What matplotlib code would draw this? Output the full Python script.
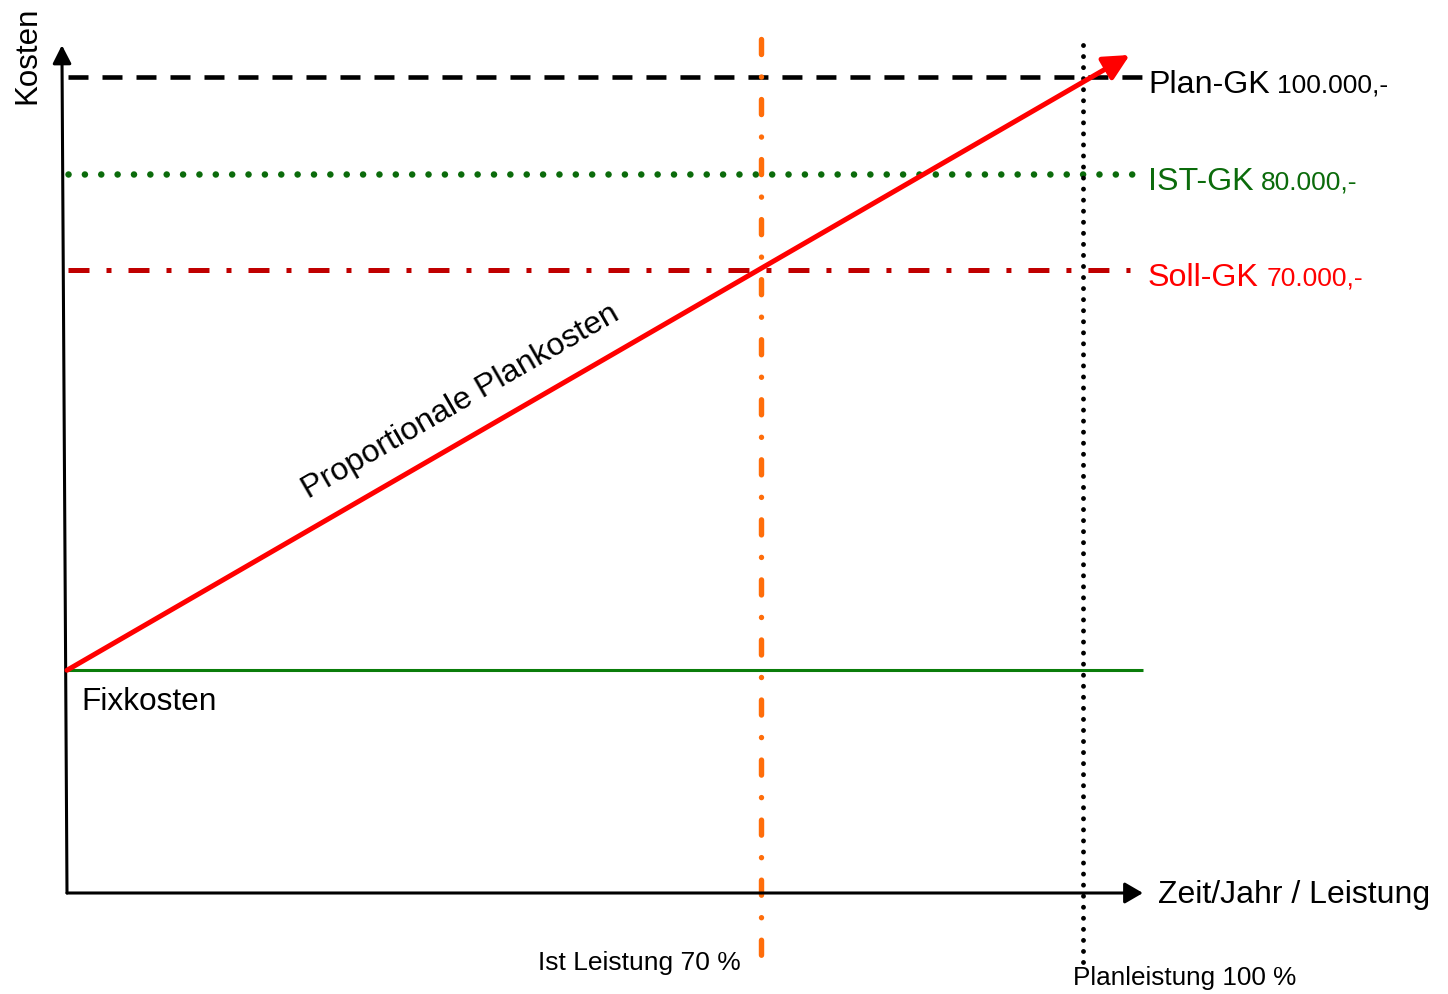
import matplotlib
matplotlib.use("Agg")
import matplotlib.pyplot as plt

plt.rcParams['font.family'] = ['Liberation Sans', 'DejaVu Sans']

# ---- diagram values (conceptual units: x = Leistung %, y = cost level) ----
fixkosten = 27.3
plan_gk = 100.0
ist_gk = 88.1
soll_gk = 76.35
ist_leistung = 68.3
plan_leistung = 100.0
prop_end = (104.6, 102.7)      # tip of the proportional cost arrow
x_axis_end = 105.9
y_axis_top = (-0.5, 103.9)

cost_labels = ["Plan-GK", "IST-GK", "Soll-GK"]
cost_amounts = ["100.000,-", "80.000,-", "70.000,-"]
cost_levels = [plan_gk, ist_gk, soll_gk]
cost_colors = ["#000000", "#0B6B0B", "#FF0000"]

W, H, DPI = 1448, 994, 100
fig = plt.figure(figsize=(W / DPI, H / DPI), dpi=DPI)
ax = fig.add_axes([0, 0, 1, 1])
# scale: 10.16 px per x unit, 8.16 px per y unit; origin at pixel (67, 893)
sx, sy = 10.16, 8.16
ax.set_xlim(-67 / sx, (W - 67) / sx)
ax.set_ylim(-(H - 893) / sy, 893 / sy)
ax.axis('off')

px = 1 / 1.389  # points per pixel at 100 dpi

# Axes arrows
ax.annotate('', xy=(x_axis_end, 0), xytext=(0, 0),
            arrowprops=dict(arrowstyle='-|>,head_length=0.55,head_width=0.32',
                            lw=2.2, color='black', mutation_scale=20,
                            shrinkA=0, shrinkB=0), zorder=5)
ax.annotate('', xy=y_axis_top, xytext=(0, 0),
            arrowprops=dict(arrowstyle='-|>,head_length=0.55,head_width=0.28',
                            lw=2.2, color='black', mutation_scale=20,
                            shrinkA=0, shrinkB=0), zorder=5)

# Fixkosten line
ax.plot([0, x_axis_end], [fixkosten, fixkosten], color='#0A7D0A', lw=2.2,
        solid_capstyle='butt', zorder=3)

# Plan-GK dashed
ax.plot([0.1, 106.1], [plan_gk, plan_gk], color='black', lw=3.3,
        dashes=(20 * px / 3.3, 14 * px / 3.3), dash_capstyle='butt', zorder=2)
# IST-GK dotted
ist_lw = 4.7
ax.plot([0.1, 105.9], [ist_gk, ist_gk], color='#0B6B0B', lw=ist_lw,
        dashes=(0.01, 16.3 * px / ist_lw), dash_capstyle='round', zorder=2)
# Soll-GK dash-dot
ax.plot([0.1, 104.6], [soll_gk, soll_gk], color='#C00000', lw=3.6,
        dashes=(21 * px / 3.6, 17 * px / 3.6, 5 * px / 3.6, 17 * px / 3.6),
        dash_capstyle='butt', zorder=2)

# Ist Leistung vertical (orange dash-dot)
or_lw = 3.9
ax.plot([ist_leistung, ist_leistung], [104.6, -8.5], color='#FF6D0A', lw=or_lw,
        dashes=(15 * px / or_lw, 22.5 * px / or_lw, 0.01, 22.5 * px / or_lw),
        dash_capstyle='round', zorder=2)
# Planleistung vertical (black dotted)
pl_lw = 3.5
ax.plot([plan_leistung, plan_leistung], [103.9, -9.2], color='black', lw=pl_lw,
        dashes=(0.01, 11 * px / pl_lw), dash_capstyle='round', zorder=2)

# Proportional cost arrow
ax.annotate('', xy=prop_end, xytext=(0, fixkosten),
            arrowprops=dict(arrowstyle='-|>,head_length=0.7,head_width=0.35',
                            lw=3.6, color='#FF0000', mutation_scale=22,
                            shrinkA=0, shrinkB=0), zorder=6)

# Right-hand cost labels
big_texts = []
for lab, lvl, col in zip(cost_labels, cost_levels, cost_colors):
    t = ax.annotate(lab, xy=(106.4, lvl), xytext=(0, -11.3),
                    textcoords='offset points', ha='left', va='baseline',
                    fontsize=23.2, color=col)
    big_texts.append(t)
fig.canvas.draw()
inv = ax.transData.inverted()
for t, amt, lvl, col in zip(big_texts, cost_amounts, cost_levels, cost_colors):
    bb = t.get_window_extent()
    xd = inv.transform((bb.x1, bb.y0))[0]
    ax.annotate(amt, xy=(xd, lvl), xytext=(5.5, -11.3),
                textcoords='offset points', ha='left', va='baseline',
                fontsize=19, color=col)

# Other labels
ax.annotate('Fixkosten', xy=(0, fixkosten), xytext=(10, -28.5),
            textcoords='offset points', ha='left', va='baseline', fontsize=22.8)
ax.annotate('Kosten', xy=y_axis_top, xytext=(-19.4, -7.2),
            textcoords='offset points', ha='center', va='baseline',
            rotation=90, rotation_mode='anchor', fontsize=22.5)
ax.annotate('Zeit/Jahr / Leistung', xy=(x_axis_end, 0), xytext=(10.8, -7.2),
            textcoords='offset points', ha='left', va='baseline', fontsize=23)
ax.annotate('Ist Leistung 70 %', xy=(ist_leistung, 0), xytext=(-14.4, -55.4),
            textcoords='offset points', ha='right', va='baseline', fontsize=19)
ax.annotate('Planleistung 100 %', xy=(plan_leistung, 0), xytext=(-7.2, -66.2),
            textcoords='offset points', ha='left', va='baseline', fontsize=18.8)
ax.text(39.1, 59.3, 'Proportionale Plankosten', rotation=30,
        rotation_mode='anchor', ha='center', va='baseline', fontsize=23.2)

fig.savefig('out.png', dpi=DPI)
